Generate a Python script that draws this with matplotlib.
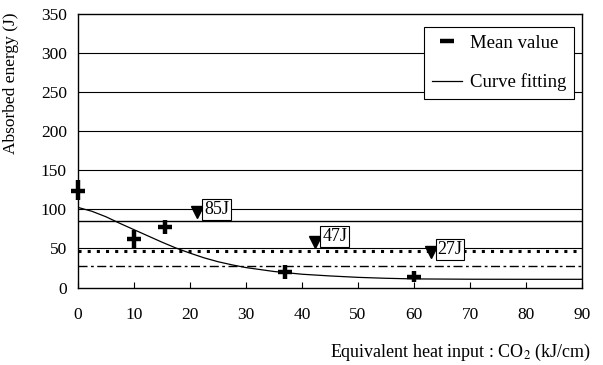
import matplotlib
matplotlib.use("Agg")
import matplotlib.pyplot as plt
from matplotlib.lines import Line2D

# ── Data ──────────────────────────────────────────────────────────────────────
# Mean absorbed energy with scatter band, per equivalent heat input
heat_input = [0, 10, 15.5, 37, 60]
energy_mean = [124, 62, 78, 20, 14]
energy_low = [112, 50, 68, 10.5, 7]
energy_high = [137, 74, 86, 29, 21]

# Fitted curve, read point by point
fit_x = [0, 2.5, 5, 7.5, 10, 12.5, 15, 17.5, 20, 22.5, 25, 27.5, 30,
         35, 40, 45, 50, 55, 60, 70, 80, 90]
fit_y = [102.5, 97.5, 90.5, 82, 74, 66, 58, 50.5, 44, 38, 33, 29, 25.5,
         20.5, 17, 14.8, 13, 11.8, 11, 10.6, 10.5, 10.5]

# Required energy levels and the pointer positions of their labels
req_levels = [85, 47, 27]
req_styles = ["-", "dotted", "dashdot"]
marker_x = [21.3, 42.4, 63.0]
marker_y = [96, 58, 46]
label_y = [100, 65, 49]

# ── Figure ────────────────────────────────────────────────────────────────────
plt.rcParams["font.family"] = ["Liberation Serif", "DejaVu Serif"]
plt.rcParams["mathtext.fontset"] = "stix"

fig = plt.figure(figsize=(6.03, 3.65), dpi=100)
ax = fig.add_axes([0.1294, 0.2123, 0.8358, 0.7493])

# horizontal grid
for g in range(50, 350, 50):
    ax.axhline(g, color="black", lw=0.8, zorder=1)

# requirement lines
for lvl, style in zip(req_levels, req_styles):
    if style == "-":
        ax.axhline(lvl, color="black", lw=1.0, zorder=2)
    elif style == "dotted":
        ax.axhline(lvl, color="black", lw=2.2, linestyle=(0, (1, 2.0)),
                   dash_capstyle="butt", zorder=2)
    else:
        ax.axhline(lvl, color="black", lw=1.0,
                   linestyle=(0, (6.5, 2.5, 2, 2.5)), zorder=2)

# fitted curve
ax.plot(fit_x, fit_y, color="black", lw=0.9, zorder=3)

# mean values with scatter bands
ax.vlines(heat_input, energy_low, energy_high, color="black", lw=3.2,
          zorder=4, clip_on=False)
ax.plot(heat_input, energy_mean, ls="none", marker="_", ms=9.5, mew=3.2,
        color="black", zorder=5, clip_on=False)

# pointer triangles and boxed labels
for mx, my, ly, lvl in zip(marker_x, marker_y, label_y, req_levels):
    ax.plot(mx, my, marker="v", ms=9, color="black", ls="none", zorder=6)
    ax.text(mx + 1.2, ly, f"{lvl}J", ha="left", va="center", fontsize=13,
            zorder=7,
            bbox=dict(boxstyle="square,pad=0.1", fc="white", ec="black",
                      lw=0.8))

# ── Axes ──────────────────────────────────────────────────────────────────────
ax.set_xlim(0, 90)
ax.set_ylim(0, 350)
ax.set_xticks(range(0, 100, 10))
ax.set_yticks(range(0, 400, 50))
ax.tick_params(axis="x", direction="in", length=4, width=0.8, pad=14,
               labelsize=12.5)
ax.tick_params(axis="y", direction="in", length=0, pad=8, labelsize=12.5)
for spine in ax.spines.values():
    spine.set_linewidth(1.0)

ax.set_ylabel("Absorbed energy (J)", fontsize=12.5)
ax.yaxis.set_label_coords(-0.118, 0.746)

xl = ax.set_xlabel(r"Equivalent heat input : CO$_2$ (kJ/cm)", fontsize=13)
xl.set_ha("right")
xl.set_va("center")
ax.xaxis.set_label_coords(1.018, -0.236)

# ── Legend ────────────────────────────────────────────────────────────────────
handles = [
    Line2D([], [], ls="none", marker="_", ms=10, mew=3.2, color="black"),
    Line2D([], [], color="black", lw=0.9),
]
leg = ax.legend(handles, ["Mean value", "Curve fitting"], loc="upper right",
                bbox_to_anchor=(0.984, 0.952), borderaxespad=0, fontsize=13.5,
                frameon=True, fancybox=False, framealpha=1, edgecolor="black",
                labelspacing=1.15, handlelength=1.6, handletextpad=0.45,
                borderpad=0.4)
leg.get_frame().set_linewidth(0.8)
leg.set_zorder(10)

fig.savefig("out.png", dpi=100, facecolor="white")
